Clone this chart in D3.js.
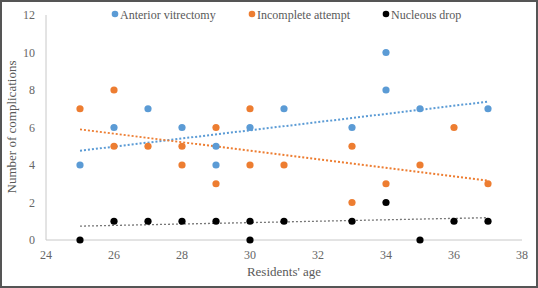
<!DOCTYPE html>
<html>
<head>
<meta charset="utf-8">
<script src="https://cdn.jsdelivr.net/npm/d3@7"></script>
<style>
  body { margin: 0; background: #fff; }
  svg text { font-family: "Liberation Serif", "Times New Roman", serif; }
</style>
</head>
<body>
<div id="chart"></div>
<script>
// values
const seriesNames = ['Anterior vitrectomy', 'Incomplete attempt', 'Nucleous drop']
const colors = ['#5b9bd5', '#ed7d31', '#000000']

const vitrectomyAge = [25, 26, 27, 28, 29, 29, 30, 31, 33, 34, 34, 35, 37]
const vitrectomyVal = [4, 6, 7, 6, 5, 4, 6, 7, 6, 10, 8, 7, 7]

const incompleteAge = [25, 26, 26, 27, 28, 28, 29, 29, 30, 30, 31, 33, 33, 34, 35, 36, 37]
const incompleteVal = [7, 8, 5, 5, 5, 4, 6, 3, 7, 4, 4, 5, 2, 3, 4, 6, 3]

const dropAge = [25, 26, 27, 28, 29, 30, 30, 31, 33, 34, 35, 36, 37]
const dropVal = [0, 1, 1, 1, 1, 1, 0, 1, 1, 2, 0, 1, 1]

// linear trend lines, value at age 25 and at age 37
const trendAges = [25, 37]
const trendVitrectomy = [4.76, 7.38]
const trendIncomplete = [5.9, 3.16]
const trendDrop = [0.74, 1.19]

const xTicks = [24, 26, 28, 30, 32, 34, 36, 38]
const yTicks = [0, 2, 4, 6, 8, 10, 12]

const width = 538, height = 288
const svg = d3.select('#chart').append('svg')
    .attr('width', width)
    .attr('height', height)

// outer frame
svg.append('rect')
    .attr('x', 1).attr('y', 1)
    .attr('width', width - 2).attr('height', height - 2)
    .attr('fill', '#fff')
    .attr('stroke', '#555')
    .attr('stroke-width', 2)

const x = d3.scaleLinear().domain([24, 38]).range([46, 522])
const y = d3.scaleLinear().domain([0, 12]).range([240, 15])

// axis lines
svg.append('line')
    .attr('x1', x(24)).attr('x2', x(24))
    .attr('y1', y(12)).attr('y2', y(0))
    .attr('stroke', '#c8c8c8')
svg.append('line')
    .attr('x1', x(24)).attr('x2', x(38))
    .attr('y1', y(0)).attr('y2', y(0))
    .attr('stroke', '#c8c8c8')

// tick labels
svg.selectAll('.xlab')
    .data(xTicks)
    .join('text')
    .attr('class', 'xlab')
    .attr('x', d => x(d))
    .attr('y', y(0) + 19)
    .attr('text-anchor', 'middle')
    .attr('font-size', 12)
    .attr('fill', '#666')
    .text(d => d)

svg.selectAll('.ylab')
    .data(yTicks)
    .join('text')
    .attr('class', 'ylab')
    .attr('x', 35)
    .attr('y', d => y(d) + 4)
    .attr('text-anchor', 'end')
    .attr('font-size', 12)
    .attr('fill', '#666')
    .text(d => d)

// axis titles
svg.append('text')
    .attr('x', 284).attr('y', 276)
    .attr('text-anchor', 'middle')
    .attr('font-size', 13)
    .attr('fill', '#595959')
    .text("Residents' age")

svg.append('text')
    .attr('transform', 'translate(16,127) rotate(-90)')
    .attr('text-anchor', 'middle')
    .attr('font-size', 13)
    .attr('fill', '#595959')
    .text('Number of complications')

// trend lines
const trends = [trendVitrectomy, trendIncomplete, trendDrop]
trends.forEach((t, i) => {
    svg.append('line')
        .attr('x1', x(trendAges[0])).attr('y1', y(t[0]))
        .attr('x2', x(trendAges[1])).attr('y2', y(t[1]))
        .attr('stroke', i == 2 ? '#777' : colors[i])
        .attr('stroke-width', i == 2 ? 1.3 : 2)
        .attr('stroke-dasharray', '2,2')
})

// points
const series = [
    d3.zip(vitrectomyAge, vitrectomyVal),
    d3.zip(incompleteAge, incompleteVal),
    d3.zip(dropAge, dropVal)
]
series.forEach((pts, i) => {
    svg.append('g')
        .selectAll('circle')
        .data(pts)
        .join('circle')
        .attr('cx', d => x(d[0]))
        .attr('cy', d => y(d[1]))
        .attr('r', 3.6)
        .attr('fill', colors[i])
})

// legend
const legendX = [115, 252, 386]
const legend = svg.selectAll('.legend')
    .data(seriesNames)
    .join('g')
    .attr('class', 'legend')
    .attr('transform', (d, i) => `translate(${legendX[i]},14)`)
legend.append('circle')
    .attr('r', 3.3)
    .attr('fill', (d, i) => colors[i])
legend.append('text')
    .attr('x', 5)
    .attr('y', 4.5)
    .attr('font-size', 12)
    .attr('fill', '#595959')
    .text(d => d)
</script>
</body>
</html>
